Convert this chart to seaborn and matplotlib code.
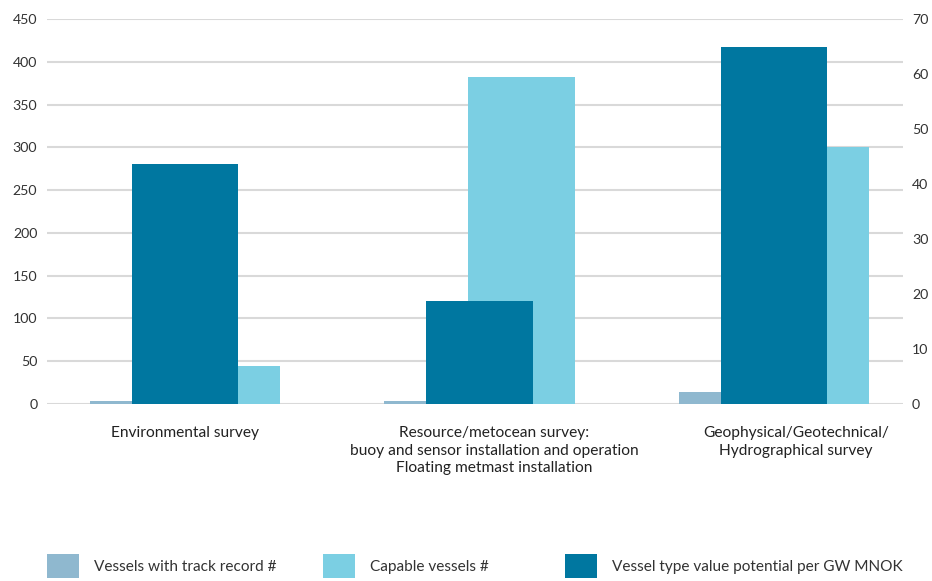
import numpy as np
import pandas as pd
import matplotlib
matplotlib.use("Agg")
import matplotlib.pyplot as plt
import matplotlib.transforms as mtransforms
from matplotlib.patches import Patch
import seaborn as sns

# ---- data -------------------------------------------------------------
categories = [
    "Environmental survey",
    "Resource/metocean survey:\nbuoy and sensor installation and operation\nFloating metmast installation",
    "Geophysical/Geotechnical/\nHydrographical survey",
]
track_record = [3, 3, 14]            # vessels with track record (left axis)
capable = [44, 382, 300]             # capable vessels (left axis)
value_potential = [43.7, 18.7, 65.0]  # value potential per GW, MNOK (right axis)

left_ticks = [0, 50, 100, 150, 200, 250, 300, 350, 400, 450]
right_ticks = [0, 10, 20, 30, 40, 50, 60, 70]
series_names = [
    "Vessels with track record #",
    "Capable vessels #",
    "Vessel type value potential per GW MNOK",
]

# ---- style ------------------------------------------------------------
colors = ["#8fb8cf", "#7bcfe3", "#0077a0"]
text_color = "#333333"
grid_color = "#d9d9d9"

sns.set_theme(style="white")
plt.rcParams["font.family"] = ["Lato", "DejaVu Sans"]

fig = plt.figure(figsize=(9.32, 5.81), dpi=100)
ax = fig.add_axes([47 / 932, 177 / 581, 856 / 932, 385 / 581])
ax2 = ax.twinx()

idx = np.arange(len(categories))
bar_w = 0.36
offset = 0.1426

df = pd.DataFrame({
    "pos": idx,
    "track": track_record,
    "capable": capable,
    "value": value_potential,
})
df["x_track"] = df["pos"] - offset
df["x_capable"] = df["pos"] + offset

common = dict(native_scale=True, width=bar_w, saturation=1, errorbar=None,
              linewidth=0, edgecolor="none")
sns.barplot(data=df, x="x_track", y="track", color=colors[0], ax=ax, **common)
sns.barplot(data=df, x="x_capable", y="capable", color=colors[1], ax=ax, **common)
sns.barplot(data=df, x="pos", y="value", color=colors[2], ax=ax2, **common)

for a in (ax, ax2):
    a.set_xlabel("")
    a.set_ylabel("")
    for s in a.spines.values():
        s.set_visible(False)

ax.set_xlim(-0.4686, 2.438)
ax.set_ylim(0, 450)
ax2.set_ylim(0, 70)

ax.set_axisbelow(True)
ax.yaxis.grid(True, color=grid_color, linewidth=1.5)
ax.xaxis.grid(False)
ax2.grid(False)

ax.set_yticks(left_ticks)
ax2.set_yticks(right_ticks)
ax.tick_params(axis="y", length=0, pad=7, labelsize=10.2, labelcolor=text_color)
ax2.tick_params(axis="y", length=0, pad=6.5, labelsize=10.2, labelcolor=text_color)

ax.set_xticks(idx)
ax.set_xticklabels(categories, fontsize=11.2, color="#222222", linespacing=1.32)
ax.tick_params(axis="x", length=0, pad=16)
ax2.tick_params(axis="x", length=0, labelbottom=False)

# nudge the multi-line category labels sideways
label_shift_px = [0, 15, 22]
for lbl, dx in zip(ax.get_xticklabels(), label_shift_px):
    lbl.set_transform(lbl.get_transform()
                      + mtransforms.ScaledTranslation(dx / 100, 0, fig.dpi_scale_trans))

# ---- legend: three separate entries along the bottom -------------------
legend_x = [47 / 932, 323 / 932, 565 / 932]
for name, col, lx in zip(series_names, colors, legend_x):
    fig.legend(
        handles=[Patch(facecolor=col, edgecolor="none", label=name)],
        loc="center left", bbox_to_anchor=(lx, 15 / 581),
        frameon=False, fontsize=11.1, labelcolor=text_color,
        handlelength=2.07, handleheight=2.07, handletextpad=0.97,
        borderpad=0, borderaxespad=0,
    )

fig.savefig("out.png", dpi=100)
